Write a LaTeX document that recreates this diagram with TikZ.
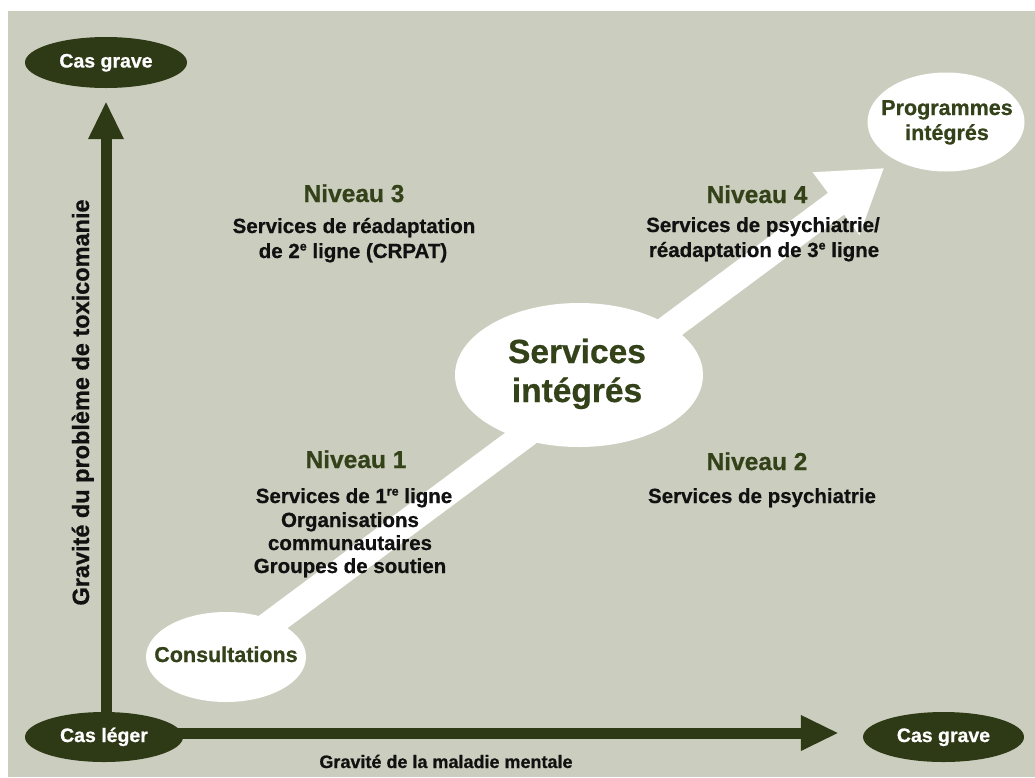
\documentclass[tikz,border=0pt]{standalone}
\usepackage{fontspec}
\setmainfont{Liberation Sans}[BoldFeatures={FakeBold=0.7}]
\usetikzlibrary{arrows.meta,shapes.geometric}
\definecolor{bggrey}{RGB}{203,206,190}
\definecolor{dgreen}{RGB}{46,57,22}
\definecolor{tgreen}{RGB}{52,66,26}
\definecolor{ink}{RGB}{17,17,17}
\newcommand{\fsz}[1]{\fontsize{#1}{#1}\selectfont\bfseries}
\newcommand{\supx}[1]{\raisebox{7.5pt}{\fontsize{12.5}{12.5}\selectfont #1}}
\pgfdeclarelayer{back}
\pgfdeclarelayer{mid}
\pgfsetlayers{back,mid,main}
\begin{document}
\begin{tikzpicture}[x=1pt,y=-1pt,
  dark/.style={ellipse, fill=dgreen, inner sep=0pt, text=white, font=\fsz{19.5}, text height=10pt, text depth=0pt},
  light/.style={ellipse, fill=white, inner sep=0pt},
  axisarrow/.style={draw=dgreen, line width=11pt, -{Triangle[length=38pt,width=33pt]}},
  bigarrow/.style={draw=white, line width=27pt, -{Triangle[length=60pt,width=74pt]}},
  head/.style={anchor=base, text=tgreen, font=\fsz{24.5}, inner sep=0pt},
  body/.style={anchor=base, text=ink, font=\fsz{20.5}, inner sep=0pt},
  inell/.style={anchor=base, text=tgreen, inner sep=0pt},
  axlabel/.style={anchor=base, text=ink, inner sep=0pt},
]
\useasboundingbox (0,0) rectangle (1035,777);
\begin{pgfonlayer}{back}
\fill[white] (0,0) rectangle (1035,777);
\fill[bggrey] (8,11) rectangle (1035,777);
\end{pgfonlayer}

% dark ellipses
\node[dark, minimum width=162pt, minimum height=51pt] (grave1) at (106,62.5) {Cas grave};
\node[dark, minimum width=158pt, minimum height=50pt] (leger) at (104,737) {Cas léger};
\node[dark, minimum width=161pt, minimum height=50pt] (grave2) at (943.5,737) {Cas grave};

% light ellipses
\node[light, minimum width=160pt, minimum height=90pt] (cons) at (226,657) {};
\node[light, minimum width=248pt, minimum height=144pt] (svc) at (579,375) {};
\node[light, minimum width=157pt, minimum height=99pt] (prog) at (946,122) {};

\begin{pgfonlayer}{mid}
\draw[axisarrow, shorten >=13pt] (leger.center -| grave1.south) -- (grave1.south);
\draw[axisarrow, shorten >=24pt] ([yshift=4pt]leger.center) -- ([yshift=4pt]grave2.west);
\draw[bigarrow, shorten >=77pt] (cons.center) -- (prog.center);
\end{pgfonlayer}

% texts in light ellipses
\node[inell, font=\fsz{21.5}] (tcons) at (226,662) {Consultations};
\node[inell, font=\fsz{33.5}] (tsvc1) at (577,363) {Services};
\node[inell, font=\fsz{33.5}] (tsvc2) at (577,402) {intégrés};
\node[inell, font=\fsz{21.5}] (tprog1) at (947,115) {Programmes};
\node[inell, font=\fsz{21.5}] (tprog2) at (947,140) {intégrés};

% Niveau 3
\node[head] (n3) at (354,202) {Niveau 3};
\node[body] (n3a) at (354,233) {Services de réadaptation};
\node[body] (n3b) at (353,258) {de 2\supx{e} ligne (CRPAT)};

% Niveau 4
\node[head] (n4) at (757,203) {Niveau 4};
\node[body] (n4a) at (763,232) {Services de psychiatrie/};
\node[body] (n4b) at (764,257) {réadaptation de 3\supx{e} ligne};

% Niveau 1
\node[head] (n1) at (356,468) {Niveau 1};
\node[body] (n1a) at (354,503) {Services de 1\supx{re} ligne};
\node[body] (n1b) at (350,527) {Organisations};
\node[body] (n1c) at (350,550) {communautaires};
\node[body] (n1d) at (350,573) {Groupes de soutien};

% Niveau 2
\node[head] (n2) at (757,470) {Niveau 2};
\node[body] (n2a) at (762,503) {Services de psychiatrie};

% axis labels
\node[axlabel, font=\fsz{18}] (xlab) at (446,768) {Gravité de la maladie mentale};
\node[axlabel, font=\fsz{23.5}, rotate=90] (ylab) at (89,402.5) {Gravité du problème de toxicomanie};
\end{tikzpicture}
\end{document}
